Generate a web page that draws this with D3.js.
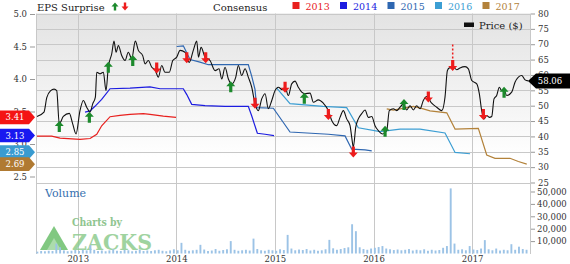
<!DOCTYPE html>
<html>
<head>
<meta charset="utf-8">
<script src="https://d3js.org/d3.v7.min.js"></script>
<style>
  body { margin: 0; background: #fff; }
  svg text { font-family: "DejaVu Serif", serif; }
</style>
</head>
<body>
<svg width="570" height="264"></svg>
<script>
// price, [decimal year, $]
var price = [
  [2012.587, 46.5], [2012.658, 47.9], [2012.686, 52.6], [2012.726, 54.9], [2012.760, 55.4], [2012.787, 54.9],
  [2012.813, 44.1], [2012.854, 46.5], [2012.915, 47.5], [2012.949, 44.1], [2012.983, 40.8], [2013.023, 48.4],
  [2013.057, 51.7], [2013.091, 49.5], [2013.125, 47.9], [2013.152, 50.6], [2013.179, 52.8], [2013.193, 60.9],
  [2013.226, 60.4], [2013.260, 60.9], [2013.287, 54.9], [2013.310, 62.5], [2013.345, 66.9], [2013.368, 71.0],
  [2013.389, 67.4], [2013.412, 69.6], [2013.446, 66.3], [2013.480, 64.7], [2013.513, 67.4], [2013.548, 65.3],
  [2013.584, 71.0], [2013.615, 68.0], [2013.659, 66.3], [2013.683, 63.6], [2013.716, 64.7], [2013.751, 62.5],
  [2013.784, 61.7], [2013.818, 59.3], [2013.852, 63.1], [2013.885, 60.9], [2013.929, 60.9], [2013.964, 64.7],
  [2014.004, 65.8], [2014.038, 68.0], [2014.088, 67.4], [2014.132, 64.1], [2014.172, 68.0], [2014.207, 71.0],
  [2014.225, 65.8], [2014.251, 69.0], [2014.291, 65.8], [2014.342, 64.7], [2014.393, 61.4], [2014.433, 62.0],
  [2014.461, 58.7], [2014.494, 62.5], [2014.528, 58.7], [2014.562, 57.1], [2014.603, 59.3], [2014.629, 63.1],
  [2014.663, 59.8], [2014.697, 62.0], [2014.730, 59.3], [2014.765, 56.0], [2014.798, 50.6], [2014.832, 48.4],
  [2014.866, 52.2], [2014.900, 53.9], [2014.933, 49.0], [2014.968, 51.7], [2015.001, 54.9], [2015.035, 56.0],
  [2015.075, 55.2], [2015.103, 56.0], [2015.136, 53.3], [2015.170, 57.1], [2015.204, 58.0], [2015.237, 56.0],
  [2015.272, 54.4], [2015.305, 53.9], [2015.356, 54.1], [2015.390, 51.1], [2015.440, 51.9], [2015.491, 50.8],
  [2015.542, 48.4], [2015.576, 45.2], [2015.627, 43.5], [2015.660, 46.2], [2015.694, 48.4], [2015.728, 45.7],
  [2015.762, 43.5], [2015.779, 39.7], [2015.795, 36.5], [2015.820, 43.0], [2015.846, 45.7], [2015.880, 47.4],
  [2015.914, 48.6], [2015.947, 46.2], [2015.982, 46.5], [2016.015, 43.5], [2016.049, 41.9], [2016.093, 40.8],
  [2016.134, 41.9], [2016.160, 48.4], [2016.201, 49.0], [2016.235, 48.4], [2016.269, 49.5], [2016.302, 50.6],
  [2016.337, 48.6], [2016.370, 50.0], [2016.404, 48.6], [2016.438, 50.0], [2016.472, 49.0], [2016.505, 51.7],
  [2016.540, 53.0], [2016.590, 50.8], [2016.641, 49.5], [2016.692, 48.4], [2016.725, 52.8], [2016.749, 61.4],
  [2016.769, 62.3], [2016.810, 62.5], [2016.844, 61.7], [2016.877, 62.3], [2016.928, 62.7], [2016.962, 62.0],
  [2016.996, 58.2], [2017.047, 57.1], [2017.073, 53.9], [2017.097, 48.4], [2017.121, 45.7], [2017.148, 46.8],
  [2017.174, 46.2], [2017.199, 46.5], [2017.222, 52.2], [2017.249, 53.3], [2017.276, 56.0], [2017.300, 54.9],
  [2017.323, 55.2], [2017.351, 53.3], [2017.401, 54.4], [2017.435, 57.6], [2017.469, 59.3], [2017.503, 59.8],
  [2017.537, 58.4], [2017.570, 58.06]
];
var lastPrice = 58.06;

// consensus EPS estimate per fiscal year, [decimal year, eps]
var cons2013 = [[2012.587, 3.12], [2012.736, 3.12], [2012.821, 3.09], [2013.023, 3.07], [2013.125, 3.085],
  [2013.193, 3.15], [2013.243, 3.28], [2013.328, 3.42], [2013.429, 3.44], [2013.530, 3.456], [2013.665, 3.466],
  [2013.733, 3.456], [2013.868, 3.43], [2013.997, 3.41]];
var cons2014 = [[2013.074, 3.49], [2013.125, 3.51], [2013.175, 3.58], [2013.243, 3.685], [2013.328, 3.85],
  [2013.530, 3.86], [2013.733, 3.88], [2013.835, 3.85], [2014.071, 3.85], [2014.106, 3.76], [2014.156, 3.61],
  [2014.291, 3.59], [2014.494, 3.58], [2014.730, 3.58], [2014.765, 3.43], [2014.822, 3.165], [2014.900, 3.15],
  [2014.991, 3.13]];
var cons2015 = [[2014.004, 4.50], [2014.071, 4.51], [2014.139, 4.30], [2014.240, 4.26], [2014.325, 4.22],
  [2014.730, 4.22], [2014.765, 4.04], [2014.798, 3.84], [2014.815, 3.56], [2014.984, 3.55], [2015.153, 3.185],
  [2015.542, 3.15], [2015.711, 3.125], [2015.779, 2.92], [2015.914, 2.91], [2015.982, 2.895]];
var cons2016 = [[2015.018, 3.86], [2015.153, 3.62], [2015.488, 3.58], [2015.728, 3.56], [2015.846, 3.25],
  [2016.066, 3.19], [2016.269, 3.23], [2016.472, 3.23], [2016.725, 3.17], [2016.827, 2.87], [2016.979, 2.85]];
var cons2017 = [[2016.134, 3.54], [2016.201, 3.52], [2016.404, 3.58], [2016.505, 3.54], [2016.573, 3.51],
  [2016.743, 3.48], [2016.827, 3.23], [2017.063, 3.24], [2017.148, 2.83], [2017.232, 2.78], [2017.384, 2.78],
  [2017.469, 2.73], [2017.554, 2.69]];

var consYears = ["2013", "2014", "2015", "2016", "2017"];
var consColors = ["#e8201e", "#1c1ce0", "#2f67b1", "#3c9ed3", "#b3823a"];
var consSeries = [cons2013, cons2014, cons2015, cons2016, cons2017];
var consLatest = [3.41, 3.13, 2.85, 2.69];
var consLatestColors = ["#f41414", "#1818f0", "#3a9bd0", "#b07a32"];

// EPS surprise markers, [decimal year, price level]
var beats = [[2012.813, 43.2], [2013.118, 46.2], [2013.310, 62.5], [2013.558, 64.7], [2014.552, 56.2],
  [2015.298, 52.4], [2016.117, 41.7], [2016.309, 50.4], [2017.324, 54.4]];
var misses = [[2013.801, 62.3], [2014.106, 65.6], [2014.298, 65.6], [2014.798, 50.8], [2015.103, 56.0],
  [2015.542, 47.1], [2015.795, 34.9], [2016.556, 52.8], [2016.803, 63.1], [2017.114, 47.1]];
var bigMiss = [2016.803, 69.9];

// volume, thousands, one bar every two weeks from volStart
var volStart = 2012.59;
var volStep = 1 / 26;
var volume = [
  1.5, 2.0, 1.8, 2.2, 2.0, 8.0, 5.0, 2.5, 1.8, 2.2,
  2.8, 2.0, 3.0, 2.5, 7.0, 3.0, 2.0, 2.4, 1.8, 2.5,
  3.5, 2.2, 2.0, 3.0, 2.6, 1.8, 2.2, 3.2, 2.0, 2.4,
  2.0, 2.6, 3.0, 2.2, 1.8, 2.5, 3.4, 2.6, 8.6, 3.0,
  2.2, 2.6, 3.0, 7.0, 3.2, 2.0, 2.4, 3.6, 2.2, 2.8,
  3.4, 10.0, 3.0, 2.2, 2.6, 3.0, 2.4, 12.0, 3.6, 2.6,
  2.2, 3.0, 2.6, 2.2, 3.4, 2.8, 15.0, 4.0, 2.6, 3.2,
  2.8, 3.6, 2.4, 3.0, 2.2, 2.6, 3.4, 11.0, 4.2, 3.0,
  3.6, 4.4, 5.0, 23.6, 18.0, 5.0, 3.6, 3.0, 4.0, 4.6,
  5.2, 6.0, 4.0, 3.4, 2.8, 3.2, 2.6, 3.0, 3.6, 2.4,
  3.0, 2.6, 3.4, 2.2, 3.0, 2.4, 2.8, 4.6, 6.0, 52.5,
  8.0, 3.0, 3.4, 2.6, 6.0, 3.2, 2.8, 4.0, 10.8, 3.4,
  2.6, 4.0, 2.4, 3.0, 2.6, 7.5, 3.0, 5.5, 3.6, 3.0
];

var yearTicks = [2013, 2014, 2015, 2016, 2017];
var priceTicks = [25, 30, 35, 40, 45, 50, 55, 60, 65, 70, 75, 80];
var epsTicks = [2.5, 3.0, 3.5, 4.0, 4.5, 5.0];
var volTicks = [10000, 20000, 30000, 40000, 50000];

var svg = d3.select("svg");

var x = d3.scaleLinear().domain([2012.587, 2017.587]).range([37, 530]);
var yPrice = d3.scaleLinear().domain([25, 80]).range([182.5, 13.5]);
var yEps = d3.scaleLinear().domain([2.5, 5]).range([176.5, 14]);
var yVol = d3.scaleLinear().domain([0, 50000]).range([253.5, 191.5]);

// background gradient of the price panel
var defs = svg.append("defs");
var grad = defs.append("linearGradient").attr("id", "bg")
  .attr("x1", 0).attr("y1", 0).attr("x2", 0).attr("y2", 1);
grad.append("stop").attr("offset", "0").attr("stop-color", "#e3e3e3");
grad.append("stop").attr("offset", "0.5").attr("stop-color", "#f3f3f3");
grad.append("stop").attr("offset", "0.85").attr("stop-color", "#ffffff");

svg.append("rect")
  .attr("x", 37).attr("y", 13.5).attr("width", 493).attr("height", 169)
  .attr("fill", "url(#bg)");

// grid
var grid = svg.append("g").attr("stroke", "#c8c8c8").attr("stroke-width", 1);
grid.selectAll(".h").data(priceTicks).enter().append("line")
  .attr("x1", 37).attr("x2", 530)
  .attr("y1", function(d) { return Math.round(yPrice(d)) + 0.5; })
  .attr("y2", function(d) { return Math.round(yPrice(d)) + 0.5; });
grid.selectAll(".v").data(yearTicks).enter().append("line")
  .attr("y1", 13.5).attr("y2", 254)
  .attr("x1", function(d) { return Math.round(x(d)) + 0.5; })
  .attr("x2", function(d) { return Math.round(x(d)) + 0.5; });
grid.append("line").attr("x1", 36.5).attr("x2", 36.5).attr("y1", 13.5).attr("y2", 254);
grid.append("line").attr("x1", 530.5).attr("x2", 530.5).attr("y1", 13.5).attr("y2", 254);

// watermark
var wm = svg.append("g").attr("opacity", 0.85);
wm.append("polygon")
  .attr("points", "40,250 54,226 68,250")
  .attr("fill", "#6cbf6c");
wm.append("polygon")
  .attr("points", "47,250 54,238 61,250")
  .attr("fill", "#9ed69e");
wm.append("text")
  .attr("x", 72).attr("y", 226)
  .attr("font-family", "Open Sans").attr("font-weight", 600)
  .attr("font-size", "10.5px").attr("fill", "#7dbb7d")
  .attr("textLength", 50).attr("lengthAdjust", "spacingAndGlyphs")
  .text("Charts by");
wm.append("text")
  .attr("x", 72).attr("y", 250)
  .attr("font-family", "Open Sans").attr("font-weight", 600)
  .attr("font-size", "23px").attr("fill", "#8fcc8f")
  .attr("textLength", 80).attr("lengthAdjust", "spacingAndGlyphs")
  .text("ZACKS");

svg.append("text")
  .attr("x", 45).attr("y", 197)
  .attr("font-size", "11px").attr("fill", "#3670b0")
  .text("Volume");

// volume bars
svg.append("g").selectAll("rect").data(volume).enter().append("rect")
  .attr("x", function(d, i) { return x(volStart + i * volStep) - 0.9; })
  .attr("width", 1.9)
  .attr("y", function(d) { return yVol(d * 1000); })
  .attr("height", function(d) { return yVol(0) - yVol(d * 1000); })
  .attr("fill", "#9cc3e6");

// consensus lines
var epsLine = d3.line()
  .x(function(d) { return x(d[0]); })
  .y(function(d) { return yEps(d[1]); });

svg.append("g").selectAll("path").data(consSeries).enter().append("path")
  .attr("d", epsLine)
  .attr("fill", "none")
  .attr("stroke", function(d, i) { return consColors[i]; })
  .attr("stroke-width", 1.2);

// price line
var priceLine = d3.line()
  .curve(d3.curveMonotoneX)
  .x(function(d) { return x(d[0]); })
  .y(function(d) { return yPrice(d[1]); });

svg.append("path")
  .datum(price)
  .attr("d", priceLine)
  .attr("fill", "none")
  .attr("stroke", "#111")
  .attr("stroke-width", 1.1);

// surprise arrows
var upArrow = "M0,-5.5L4.5,-0.5L1.6,-0.5L1.6,5.5L-1.6,5.5L-1.6,-0.5L-4.5,-0.5Z";
var downArrow = "M0,5.5L4.5,0.5L1.6,0.5L1.6,-5.5L-1.6,-5.5L-1.6,0.5L-4.5,0.5Z";

svg.append("line")
  .attr("x1", x(bigMiss[0])).attr("x2", x(bigMiss[0]))
  .attr("y1", yPrice(bigMiss[1])).attr("y2", yPrice(misses[8][1]) - 5)
  .attr("stroke", "#ee1c1c").attr("stroke-width", 1.5)
  .attr("stroke-dasharray", "2,2");

svg.append("g").selectAll("path").data(beats).enter().append("path")
  .attr("d", upArrow)
  .attr("transform", function(d) { return "translate(" + x(d[0]) + "," + yPrice(d[1]) + ")"; })
  .attr("fill", "#1c8a2c");

svg.append("g").selectAll("path").data(misses).enter().append("path")
  .attr("d", downArrow)
  .attr("transform", function(d) { return "translate(" + x(d[0]) + "," + yPrice(d[1]) + ")"; })
  .attr("fill", "#ee1c1c");

// axes
function styleAxis(g) {
  g.select(".domain").remove();
  g.selectAll(".tick line").attr("stroke", "#999");
  g.selectAll(".tick text")
    .attr("font-family", "DejaVu Serif")
    .attr("font-size", "8.5px")
    .attr("fill", "#333");
}

svg.append("g")
  .attr("transform", "translate(35,0)")
  .call(d3.axisLeft(yEps).tickValues(epsTicks).tickFormat(d3.format(".1f")).tickSize(5).tickPadding(3))
  .call(styleAxis);

svg.append("g")
  .attr("transform", "translate(531,0)")
  .call(d3.axisRight(yPrice).tickValues(priceTicks).tickSize(4).tickPadding(3))
  .call(styleAxis);

svg.append("g")
  .attr("transform", "translate(531,0)")
  .call(d3.axisRight(yVol).tickValues(volTicks).tickFormat(d3.format(",")).tickSize(4).tickPadding(2))
  .call(styleAxis);

svg.append("g")
  .attr("transform", "translate(0,254)")
  .call(d3.axisBottom(x).tickValues(yearTicks).tickFormat(d3.format("d")).tickSize(0).tickPadding(2))
  .call(styleAxis);

// consensus call-outs on the left
var calloutY = consLatest.map(function(v) { return yEps(v); });
for (var i = calloutY.length - 2; i >= 0; i--) {
  if (calloutY[i + 1] - calloutY[i] < 12) calloutY[i] = calloutY[i + 1] - 12;
}
var callouts = svg.append("g").selectAll("g").data(consLatest).enter().append("g")
  .attr("transform", function(d, i) { return "translate(0," + calloutY[i] + ")"; });
callouts.append("path")
  .attr("d", "M0,-6.8L29,-6.8L35,0L29,6.8L0,6.8Z")
  .attr("fill", function(d, i) { return consLatestColors[i]; });
callouts.append("text")
  .attr("x", 15).attr("y", 3)
  .attr("text-anchor", "middle")
  .attr("font-size", "8.5px").attr("fill", "#fff")
  .text(function(d) { return d3.format(".2f")(d); });

// last price tag
var tagY = yPrice(lastPrice);
svg.append("path")
  .attr("d", "M528," + tagY + "L536," + (tagY - 7.5) + "L570," + (tagY - 7.5) + "L570," + (tagY + 7.5) + "L536," + (tagY + 7.5) + "Z")
  .attr("fill", "#000");
svg.append("text")
  .attr("x", 550).attr("y", tagY + 3)
  .attr("text-anchor", "middle")
  .attr("font-size", "8.5px").attr("fill", "#fff")
  .text(d3.format(".2f")(lastPrice));

// legend row
svg.append("text").attr("x", 37).attr("y", 11)
  .attr("font-size", "10px").attr("fill", "#222").text("EPS Surprise");
svg.append("path").attr("d", "M0,-4L3.5,0L1.2,0L1.2,4L-1.2,4L-1.2,0L-3.5,0Z")
  .attr("transform", "translate(115,6.5)").attr("fill", "#1c8a2c");
svg.append("path").attr("d", "M0,4L3.5,0L1.2,0L1.2,-4L-1.2,-4L-1.2,0L-3.5,0Z")
  .attr("transform", "translate(125,6.5)").attr("fill", "#ee1c1c");

svg.append("text").attr("x", 213).attr("y", 11)
  .attr("font-size", "10px").attr("fill", "#222").text("Consensus");

var leg = svg.append("g").selectAll("g").data(consYears).enter().append("g")
  .attr("transform", function(d, i) { return "translate(" + (292.5 + i * 47.5) + ",0)"; });
leg.append("rect").attr("x", 0).attr("y", 2).attr("width", 7).attr("height", 7)
  .attr("fill", function(d, i) { return consColors[i]; });
leg.append("text").attr("x", 13).attr("y", 10)
  .attr("font-family", "DejaVu Sans").attr("font-size", "9.5px")
  .attr("fill", function(d, i) { return consColors[i]; })
  .text(function(d) { return d; });

svg.append("rect").attr("x", 464).attr("y", 22.5).attr("width", 10).attr("height", 4.5).attr("fill", "#111");
svg.append("text").attr("x", 479).attr("y", 29)
  .attr("font-size", "10px").attr("fill", "#222").text("Price ($)");
</script>
</body>
</html>
